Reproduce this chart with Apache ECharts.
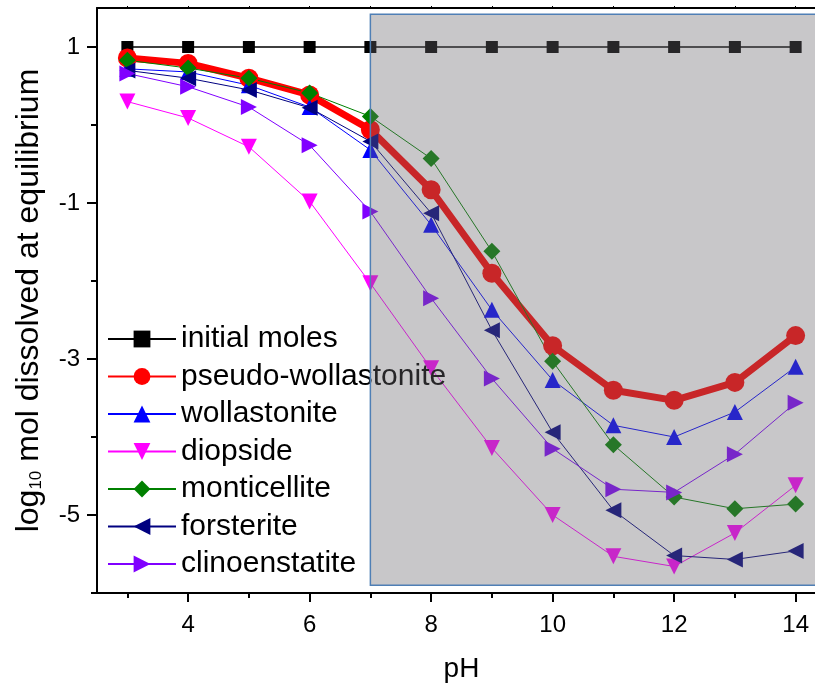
<!DOCTYPE html>
<html>
<head>
<meta charset="utf-8">
<script src="https://cdn.jsdelivr.net/npm/echarts@6/dist/echarts.min.js"></script>
<style>
  html, body { margin: 0; padding: 0; background: #fff; }
  #main { width: 815px; height: 685px; }
</style>
</head>
<body>
<div id="main"></div>
<script>
var pH = [3, 4, 5, 6, 7, 8, 9, 10, 11, 12, 13, 14];
var initialMoles = [1, 1, 1, 1, 1, 1, 1, 1, 1, 1, 1, 1];
var pseudoWollastonite = [0.86, 0.79, 0.60, 0.385, -0.06, -0.83, -1.90, -2.83, -3.40, -3.53, -3.30, -2.70];
var wollastonite = [0.72, 0.68, 0.51, 0.23, -0.32, -1.28, -2.37, -3.27, -3.85, -4.00, -3.68, -3.10];
var diopside = [0.30, 0.09, -0.28, -0.98, -2.03, -3.12, -4.14, -5.00, -5.53, -5.66, -5.23, -4.62];
var monticellite = [0.83, 0.73, 0.60, 0.41, 0.11, -0.43, -1.62, -3.03, -4.10, -4.77, -4.92, -4.86];
var forsterite = [0.70, 0.60, 0.45, 0.22, -0.21, -1.13, -2.63, -3.94, -4.94, -5.52, -5.57, -5.46];
var clinoenstatite = [0.66, 0.49, 0.23, -0.26, -1.11, -2.22, -3.25, -4.15, -4.67, -4.71, -4.22, -3.56];

var xMajorTicks = [4, 6, 8, 10, 12, 14];
var xMinorTicks = [3, 5, 7, 9, 11, 13];
var xTopTicks = [3, 4, 5, 6, 7, 8, 9, 10, 11, 12, 13, 14];
var yMajorTicks = [-5, -3, -1, 1];
var yMinorTicks = [-6, -4, -2, 0];
var shadedArea = [[7, 1.42], [14.5, -5.9]];

var mainDiv = document.getElementById('main');
var myChart = echarts.init(mainDiv);

function pairs(ys) {
    return pH.map(function (x, i) { return [x, ys[i]]; });
}

function thinSeries(name, data, color, symbol, rotate, size) {
    return {
        name: name,
        type: 'line',
        data: pairs(data),
        symbol: symbol,
        symbolRotate: rotate,
        symbolSize: size,
        showAllSymbol: true,
        itemStyle: { color: color },
        lineStyle: { color: color, width: 1 }
    };
}

var font = 'Liberation Sans, Arial, sans-serif';

var option = {
    animation: false,
    backgroundColor: '#ffffff',
    grid: { left: 97, right: -11, top: 8, bottom: 92, containLabel: false, outerBoundsMode: 'none' },
    legend: {
        orient: 'vertical',
        left: 102,
        top: 319,
        itemWidth: 68,
        itemHeight: 21,
        itemGap: 7.5,
        textStyle: { fontFamily: font, fontSize: 30, color: '#000' },
        data: ['initial moles', 'pseudo-wollastonite', 'wollastonite', 'diopside',
               'monticellite', 'forsterite', 'clinoenstatite']
    },
    xAxis: [
        {
            type: 'value', min: 2.5, max: 14.5,
            name: 'pH', nameLocation: 'middle', nameGap: 62,
            nameTextStyle: { fontFamily: font, fontSize: 28, color: '#000' },
            axisLine: { onZero: false, lineStyle: { color: '#000', width: 2 } },
            axisTick: { customValues: xMajorTicks, length: 9, lineStyle: { color: '#000', width: 2 } },
            axisLabel: { customValues: xMajorTicks, margin: 20, fontFamily: font, fontSize: 24, color: '#000' },
            splitLine: { show: false }
        },
        {
            type: 'value', min: 2.5, max: 14.5, position: 'bottom',
            axisLine: { show: false, onZero: false },
            axisTick: { customValues: xMinorTicks, length: 5, lineStyle: { color: '#000', width: 2 } },
            axisLabel: { show: false },
            splitLine: { show: false }
        },
        {
            type: 'value', min: 2.5, max: 14.5, position: 'top',
            axisLine: { onZero: false, lineStyle: { color: '#000', width: 2 } },
            axisTick: { customValues: xTopTicks, length: 2, lineStyle: { color: '#000', width: 1 } },
            axisLabel: { show: false },
            splitLine: { show: false }
        }
    ],
    yAxis: [
        {
            type: 'value', min: -6, max: 1.5,
            name: '{t|log}{s|10}{t| mol dissolved at equilibrium}',
            nameLocation: 'middle', nameGap: 52, nameRotate: 90,
            nameTextStyle: {
                rich: {
                    t: { fontFamily: font, fontSize: 32, color: '#000' },
                    s: { fontFamily: font, fontSize: 17, color: '#000', verticalAlign: 'bottom', padding: [14, 0, 0, 0] }
                }
            },
            axisLine: { onZero: false, lineStyle: { color: '#000', width: 2 } },
            axisTick: { customValues: yMajorTicks, length: 10, lineStyle: { color: '#000', width: 2 } },
            axisLabel: { customValues: yMajorTicks, margin: 17, fontFamily: font, fontSize: 24, color: '#000' },
            splitLine: { show: false }
        },
        {
            type: 'value', min: -6, max: 1.5, position: 'left',
            axisLine: { show: false, onZero: false },
            axisTick: { customValues: yMinorTicks, length: 6, lineStyle: { color: '#000', width: 2 } },
            axisLabel: { show: false },
            splitLine: { show: false }
        }
    ],
    series: [
        {
            name: 'initial moles',
            type: 'line',
            data: pairs(initialMoles),
            symbol: 'rect',
            symbolSize: 12,
            itemStyle: { color: '#000' },
            lineStyle: { color: '#000', width: 1.5 },
            markArea: {
                z: 10,
                silent: true,
                itemStyle: {
                    color: 'rgba(105,103,108,0.37)',
                    borderColor: '#4f7fb5',
                    borderWidth: 1.5
                },
                data: [[{ coord: shadedArea[0] }, { coord: shadedArea[1] }]]
            }
        },
        {
            name: 'pseudo-wollastonite',
            type: 'line',
            data: pairs(pseudoWollastonite),
            symbol: 'circle',
            symbolSize: 19,
            itemStyle: { color: '#ff0000' },
            lineStyle: { color: '#ff0000', width: 7 }
        },
        thinSeries('wollastonite', wollastonite, '#0000ff', 'triangle', 0, 16),
        thinSeries('diopside', diopside, '#ff00ff', 'triangle', 180, 16),
        thinSeries('monticellite', monticellite, '#008000', 'diamond', 0, 17),
        thinSeries('forsterite', forsterite, '#000080', 'triangle', 90, 16),
        thinSeries('clinoenstatite', clinoenstatite, '#8000ff', 'triangle', -90, 16)
    ]
};
myChart.setOption(option);
</script>
</body>
</html>
